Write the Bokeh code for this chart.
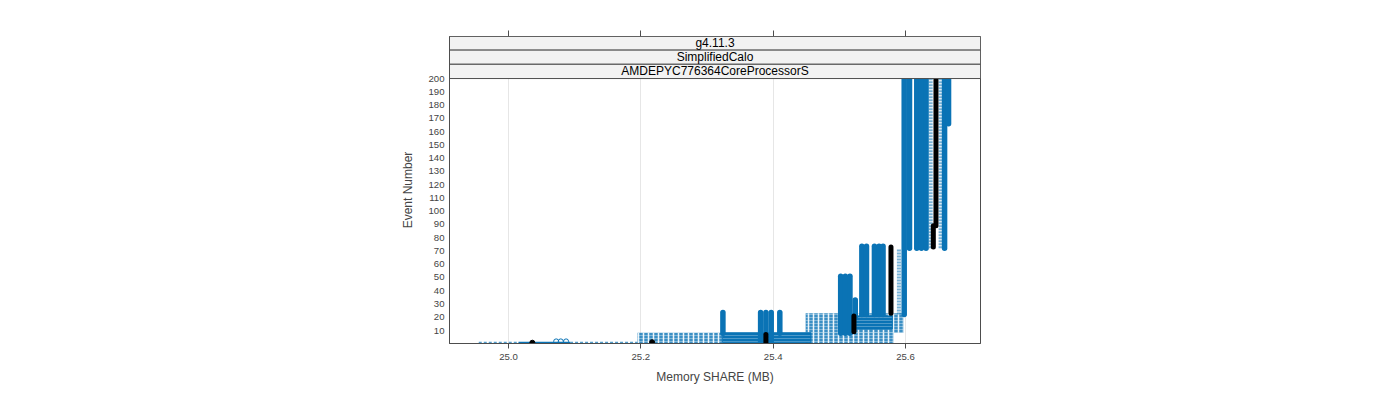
from bokeh.plotting import figure
from bokeh.models import Range1d, FixedTicker, LinearAxis
from bokeh.core.properties import value
from bokeh.embed import file_html
from bokeh.resources import INLINE

# ---------------- data ----------------
# solid columns of points: memory x, event range
col_x = [25.324, 25.381, 25.389, 25.397, 25.410, 25.502, 25.509, 25.516, 25.524,
         25.534, 25.541, 25.553, 25.560, 25.566, 25.598, 25.606, 25.617, 25.624,
         25.631, 25.659, 25.665]
col_y0 = [8, 1, 1, 1, 8, 8, 8, 8, 20, 22, 22, 22, 22, 22, 22, 72, 72, 72, 72, 72, 166]
col_y1 = [23.5, 23.5, 23.5, 23.5, 23.5, 51, 51, 51, 33, 73.5, 73.5, 73.5, 73.5, 73.5,
          200, 200, 200, 200, 200, 200, 200]

# sparse (lighter) columns
lcol_x = [25.590, 25.638, 25.653]
lcol_y0 = [22, 72, 72]
lcol_y1 = [71, 200, 200]

# dense solid bands: x from/to, event from/to
sband_x0 = [25.323, 25.525]
sband_x1 = [25.457, 25.580]
sband_y0 = [1.0, 11.0]
sband_y1 = [8.3, 21.0]

# sparse (hatched-looking) bands
hband_x0 = [25.195, 25.449, 25.449]
hband_x1 = [25.323, 25.582, 25.597]
hband_y0 = [0.6, 0.6, 8.3]
hband_y1 = [8.3, 8.3, 23.0]

# first-event rows
drow_x0 = [24.955, 25.093]
drow_x1 = [25.015, 25.195]
drow_y = [0.7, 0.7]
srow_x0 = [25.015]
srow_x1 = [25.093]
srow_y = [0.7]

# isolated open circles
oc_x = [25.072, 25.079, 25.087]
oc_y = [1.8, 1.8, 1.8]

# highlighted (black) run
blk_x = [25.389, 25.522, 25.578, 25.642, 25.646]
blk_y0 = [1, 9, 23, 73, 89]
blk_y1 = [7, 21, 73, 89, 200]
blkpt_x = [25.036, 25.217]
blkpt_y = [0.8, 1.2]

x_ticks = [25.0, 25.2, 25.4, 25.6]
x_tick_labels = ["25.0", "25.2", "25.4", "25.6"]
y_ticks = list(range(10, 201, 10))
strips = ["AMDEPYC776364CoreProcessorS", "SimplifiedCalo", "g4.11.3"]

BLUE = "#0a73b5"
FONT = "Liberation Sans"
AXC = "#4d4d4d"

XMIN, XMAX = 24.9108, 25.7133
YMIN, YMAX = 0.2, 231.7
strip_edges = [200.0, 210.9, 221.6, 231.7]

p = figure(width=1392, height=392, output_backend="svg", toolbar_location=None,
           x_range=Range1d(XMIN, XMAX), y_range=Range1d(YMIN, YMAX),
           min_border_left=449, min_border_right=412, min_border_top=36,
           min_border_bottom=49)
p.background_fill_color = "white"
p.border_fill_color = "white"
p.outline_line_color = AXC
p.outline_line_width = 1

p.ygrid.visible = False
p.xgrid.ticker = FixedTicker(ticks=x_ticks)
p.xgrid.grid_line_color = "#e6e6e6"

# axes
xa = p.xaxis[0]
xa.ticker = FixedTicker(ticks=x_ticks)
xa.major_label_overrides = {t: l for t, l in zip(x_ticks, x_tick_labels)}
xa.axis_label = "Memory SHARE (MB)"
xa.axis_label_text_font = FONT
xa.axis_label_text_font_size = "12px"
xa.axis_label_text_font_style = "normal"
xa.axis_label_standoff = 7
xa.major_label_text_font = FONT
xa.major_label_text_font_size = "9.6px"
xa.major_label_standoff = 5
xa.major_tick_out = 5
xa.major_tick_in = 0
xa.minor_tick_line_color = None
xa.axis_line_color = AXC
xa.major_tick_line_color = AXC

ya = p.yaxis[0]
ya.ticker = FixedTicker(ticks=y_ticks)
ya.axis_label = "Event Number"
ya.axis_label_text_font = FONT
ya.axis_label_text_font_size = "12px"
ya.axis_label_text_font_style = "normal"
ya.axis_label_standoff = 10
ya.major_label_text_font = FONT
ya.major_label_text_font_size = "9.6px"
ya.major_label_standoff = 5
ya.major_tick_out = 0
ya.major_tick_in = 0
ya.minor_tick_line_color = None
ya.axis_line_color = AXC

top = LinearAxis(ticker=FixedTicker(ticks=x_ticks))
top.major_label_overrides = {t: "" for t in x_ticks}
top.major_label_standoff = 0
top.major_tick_out = 6
top.major_tick_in = 0
top.minor_tick_line_color = None
top.axis_line_color = None
top.major_tick_line_color = AXC
p.add_layout(top, "above")

# sparse bands (hatched look)
p.quad(left=hband_x0, right=hband_x1, bottom=hband_y0, top=hband_y1,
       fill_color=BLUE, fill_alpha=0.8, line_color=None,
       hatch_pattern="vertical_line", hatch_color="white", hatch_alpha=0.9,
       hatch_scale=5, hatch_weight=1.5)
p.quad(left=hband_x0, right=hband_x1, bottom=hband_y0, top=hband_y1,
       fill_color=None, line_color=None,
       hatch_pattern="horizontal_line", hatch_color="white", hatch_alpha=0.45,
       hatch_scale=3, hatch_weight=0.8)

# dense bands
p.quad(left=sband_x0, right=sband_x1, bottom=sband_y0, top=sband_y1,
       fill_color=BLUE, fill_alpha=1.0, line_color=BLUE, line_width=1,
       hatch_pattern="horizontal_line", hatch_color="white", hatch_alpha=0.35,
       hatch_scale=3, hatch_weight=0.8)

# first-event rows
p.segment(x0=drow_x0, x1=drow_x1, y0=drow_y, y1=drow_y, line_color=BLUE,
          line_alpha=0.7, line_width=2, line_dash="3 2")
p.segment(x0=srow_x0, x1=srow_x1, y0=srow_y, y1=srow_y, line_color=BLUE,
          line_width=2)
p.scatter(x=oc_x, y=oc_y, marker="circle", size=5, fill_color=None,
          line_color=BLUE, line_width=1)

# sparse columns
p.segment(x0=lcol_x, x1=lcol_x, y0=lcol_y0, y1=lcol_y1, line_color=BLUE,
          line_alpha=0.55, line_width=4, line_dash="2 1")

# solid columns
p.segment(x0=col_x, x1=col_x, y0=col_y0, y1=col_y1, line_color=BLUE,
          line_width=5.5, line_cap="round")

# black run
p.segment(x0=blk_x, x1=blk_x, y0=blk_y0, y1=blk_y1, line_color="black",
          line_width=5, line_cap="round")
p.scatter(x=blkpt_x, y=blkpt_y, marker="circle", size=5, fill_color="black",
          line_color="black")

# strips
mid = [(strip_edges[i] + strip_edges[i + 1]) / 2 for i in range(3)]
p.quad(left=[XMIN] * 3, right=[XMAX] * 3, bottom=strip_edges[:3],
       top=strip_edges[1:], fill_color="#f2f2f2", line_color=AXC, line_width=1)
p.text(x=[(XMIN + XMAX) / 2] * 3, y=mid, text=strips, text_align="center",
       text_baseline="middle", text_font=value(FONT), text_font_size="12px",
       text_color="black")

open("out.html", "w").write(file_html(p, INLINE))
